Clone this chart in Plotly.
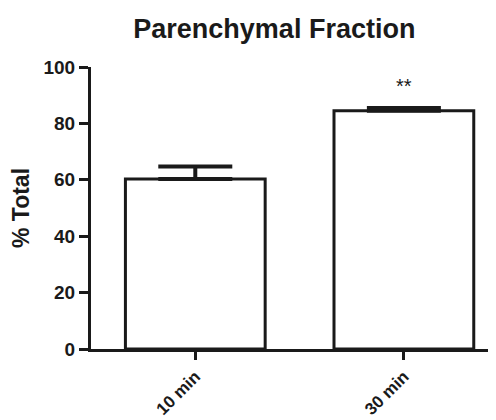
import plotly.graph_objects as go

categories = ["10 min", "30 min"]
values = [60.3, 84.5]
errors = [4.4, 1.0]
annotations_text = ["", "**"]

FONT = "Liberation Sans, Arial, sans-serif"

fig = go.Figure()
fig.add_trace(go.Bar(
    x=categories, y=values, width=0.67,
    marker=dict(color="white", line=dict(color="#1a1a1a", width=3)),
    error_y=dict(type="data", array=errors, arrayminus=[0, 0], symmetric=False,
                 color="#1a1a1a", thickness=4, width=37),
))
for c, v, e, t in zip(categories, values, errors, annotations_text):
    if t:
        fig.add_annotation(x=c, y=v + e, text=t, showarrow=False, yshift=22,
                           font=dict(family=FONT, size=20, color="#1a1a1a"))

fig.update_layout(
    width=496, height=420,
    margin=dict(l=83, r=0, t=59, b=79),
    plot_bgcolor="white", paper_bgcolor="white",
    showlegend=False,
    title=dict(text="<b>Parenchymal Fraction</b>", x=0.537, xanchor="center",
               y=0.95, yanchor="middle",
               font=dict(family=FONT, size=27, color="#1a1a1a")),
    xaxis=dict(range=[-0.5, 1.48], showline=True, linecolor="#1a1a1a", linewidth=3,
               ticks="outside", ticklen=8, tickwidth=2.5, tickcolor="#1a1a1a",
               tickangle=-45, showgrid=False, zeroline=False,
               tickfont=dict(family=FONT, size=17, color="#1a1a1a", weight="bold"),
               automargin=False),
    yaxis=dict(range=[0, 100], showline=True, linecolor="#1a1a1a", linewidth=3,
               ticks="outside", ticklen=9, tickwidth=2.5, tickcolor="#1a1a1a",
               tickvals=[0, 20, 40, 60, 80, 100], showgrid=False, zeroline=False,
               tickfont=dict(family=FONT, size=19, color="#1a1a1a", weight="bold"),
               automargin=False,
               title=dict(text="<b>% Total</b>", standoff=10,
                          font=dict(family=FONT, size=23, color="#1a1a1a"))),
)
fig.write_html("out.html")
